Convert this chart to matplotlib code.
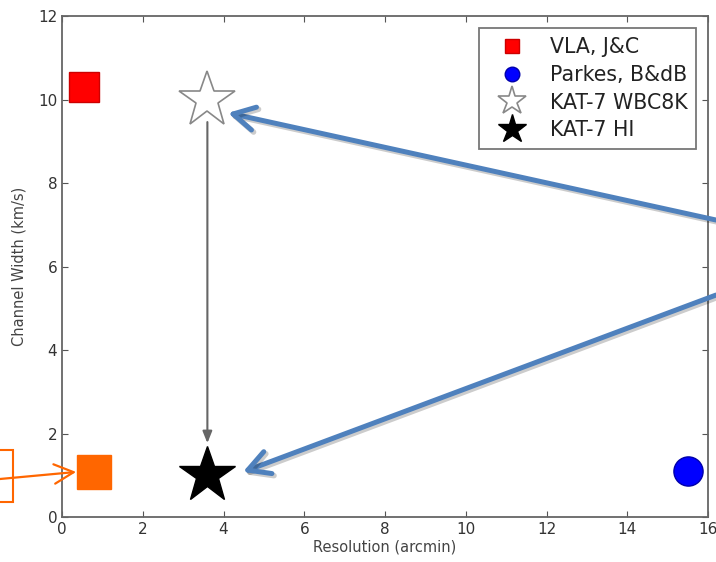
import matplotlib.pyplot as plt
import matplotlib.patheffects as pe
from matplotlib.patches import Rectangle

# survey points: resolution (arcmin) vs channel width (km/s)
vla_res, vla_width = [0.55], [10.3]
parkes_res, parkes_width = [15.5], [1.1]
wbc_res, wbc_width = [3.6], [10.0]
hi_res, hi_width = [3.6], [1.0]
new_res, new_width = [0.8], [1.08]

xticks = [0, 2, 4, 6, 8, 10, 12, 14, 16]
yticks = [0, 2, 4, 6, 8, 10, 12]

fig = plt.figure(figsize=(7.16, 5.62), dpi=100)
ax = fig.add_axes([0.0866, 0.080, 0.9024, 0.8915])

ax.plot(vla_res, vla_width, 's', color='#ff0000', mec='#cc0000', ms=21, label='VLA, J&C')
ax.plot(parkes_res, parkes_width, 'o', color='#0000ff', mec='#0000aa', ms=21, label='Parkes, B&dB')
ax.plot(wbc_res, wbc_width, '*', color='white', mec='#888888', mew=1.2, ms=42, label='KAT-7 WBC8K')
ax.plot(hi_res, hi_width, '*', color='black', ms=42, label='KAT-7 HI')
ax.plot(new_res, new_width, 's', color='#ff6600', ms=24, zorder=3)

# move from the wideband to the HI correlator mode
ax.annotate('', xy=(hi_res[0], 1.77), xytext=(wbc_res[0], 9.46),
            arrowprops=dict(arrowstyle='-|>,head_length=0.5,head_width=0.2', color='#666666',
                            lw=1.5, mutation_scale=14, shrinkA=0, shrinkB=0))

ax.set_xlim(0, 16)
ax.set_ylim(0, 12)
ax.set_xticks(xticks)
ax.set_yticks(yticks)
ax.tick_params(direction='in', length=4, top=True, right=True,
               labelsize=11, colors='#555555', labelcolor='#333333')
for s in ax.spines.values():
    s.set_color('#666666')
    s.set_linewidth(1.3)

ax.set_xlabel('Resolution (arcmin)', fontsize=10.5, color='#444444', labelpad=2)
ax.set_ylabel('Channel Width (km/s)', fontsize=10.5, color='#444444', labelpad=8)

leg = ax.legend(loc='upper right', numpoints=1, markerscale=0.5, fontsize=14.8,
                fancybox=False, borderaxespad=0.6, handlelength=2.3,
                handletextpad=0.7, labelspacing=0.38, borderpad=0.42)
leg.get_frame().set_edgecolor('#555555')
leg.get_frame().set_linewidth(1.3)
for t in leg.get_texts():
    t.set_color('#222222')

# callout arrows coming in from the right
shadow = [pe.SimpleLineShadow(offset=(1.5, -1.5), alpha=0.2, linewidth=4), pe.Normal()]
for tip, tail in [((4.11, 9.68), (1.0, 0.6085)), ((4.48, 1.08), (1.0, 0.475))]:
    a = ax.annotate('', xy=tip, xycoords='data', xytext=tail, textcoords='figure fraction',
                    arrowprops=dict(arrowstyle='->,head_length=0.55,head_width=0.3',
                                    color='#4f81bd', lw=3.6, mutation_scale=28,
                                    shrinkA=0, shrinkB=0),
                    annotation_clip=False)
    a.arrow_patch.set_path_effects(shadow)

# orange callout from the left margin
fig.patches.append(Rectangle((-0.01, 0.107), 0.028, 0.092, transform=fig.transFigure,
                             fill=False, edgecolor='#ff6600', lw=1.5))
ax.annotate('', xy=(0.35, 1.08), xycoords='data', xytext=(0.0, 0.1477),
            textcoords='figure fraction',
            arrowprops=dict(arrowstyle='->,head_length=0.7,head_width=0.35',
                            color='#ff6600', lw=1.6, mutation_scale=20,
                            shrinkA=0, shrinkB=0),
            annotation_clip=False)

fig.savefig('out.png', dpi=100)
